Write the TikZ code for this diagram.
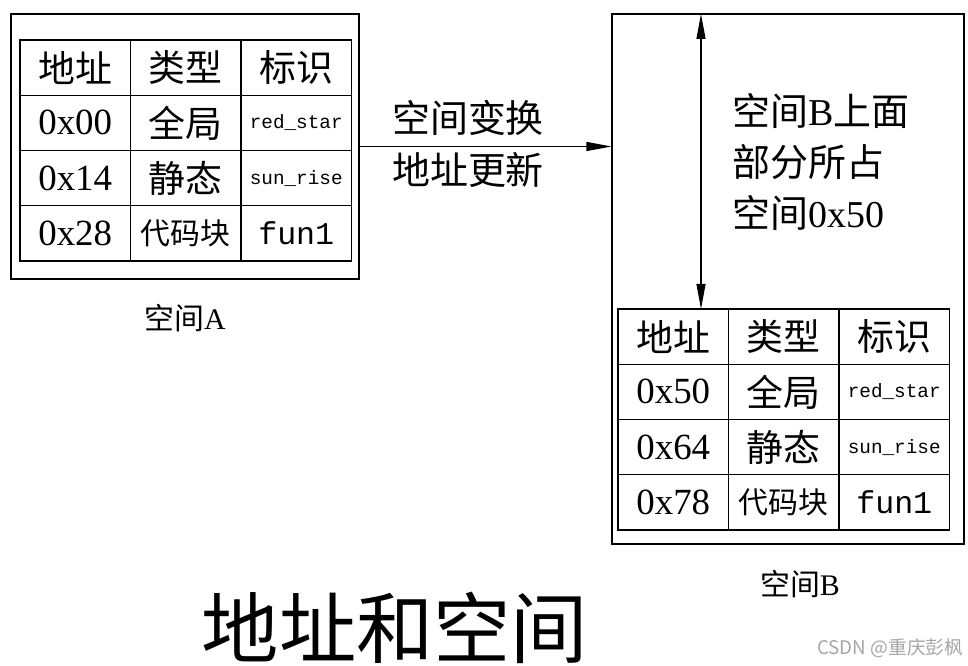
\documentclass[tikz,border=0pt]{standalone}
\usepackage{fontspec}
\usetikzlibrary{positioning,arrows.meta,calc}
\setmainfont{Liberation Serif}
\setmonofont{Liberation Mono}
\newfontfamily\zhfont{Noto Sans CJK SC}
\newcommand{\zh}[1]{{\zhfont #1}}

\begin{document}
\begin{tikzpicture}[
    >={Triangle[length=0.5cm,width=0.18cm]},
    line width=0.6pt,
    box/.style={
        rectangle,
        draw,
        inner sep=0pt,
    },
    cell/.style={
        rectangle,
        draw,
        line width=0.7pt,
        minimum width=2.21cm,
        minimum height=1.105cm,
        inner sep=0pt,
        outer sep=0pt,
        anchor=north west,
        font=\fontsize{21}{21}\selectfont,
    },
    cell_small/.style={cell, font=\fontsize{17}{17}\selectfont},
    cell_id/.style={cell, font=\ttfamily\fontsize{11}{11}\selectfont},
    cell_fun/.style={cell, font=\ttfamily\fontsize{18}{18}\selectfont},
    label/.style={font=\fontsize{17}{17}\selectfont, inner sep=0pt},
    note/.style={font=\fontsize{21.6}{29}\selectfont, inner sep=0pt, align=left},
]
    \useasboundingbox (0,0) rectangle (19.36,-13.32);

    % Outer boxes
    \node[box, minimum width=6.96cm, minimum height=5.3cm] (boxA) at (3.70,-2.93) {};
    \node[box, minimum width=7.04cm, minimum height=10.6cm] (boxB) at (15.76,-5.58) {};

    % Address tables
    \foreach \t/\x/\y/\p/\q/\r in {a/0.40/-0.80/0x00/0x14/0x28, b/12.36/-6.18/0x50/0x64/0x78} {
        \node[cell] (\t-00) at (\x,\y) {\zh{地址}};
        \node[cell, right=0pt of \t-00] (\t-01) {\zh{类型}};
        \node[cell, right=0pt of \t-01] (\t-02) {\zh{标识}};
        \node[cell, below=0pt of \t-00] (\t-10) {\p};
        \node[cell, right=0pt of \t-10] (\t-11) {\zh{全局}};
        \node[cell_id, right=0pt of \t-11] (\t-12) {red\_star};
        \node[cell, below=0pt of \t-10] (\t-20) {\q};
        \node[cell, right=0pt of \t-20] (\t-21) {\zh{静态}};
        \node[cell_id, right=0pt of \t-21] (\t-22) {sun\_rise};
        \node[cell, below=0pt of \t-20] (\t-30) {\r};
        \node[cell_small, right=0pt of \t-30] (\t-31) {\zh{代码块}};
        \node[cell_fun, right=0pt of \t-31] (\t-32) {fun1};
    }

    % Box labels
    \node[label, below=0.48cm of boxA] (lblA) {\zh{空间}A};
    \node[label, below=0.5cm of boxB, xshift=0.24cm] (lblB) {\zh{空间}B};

    % Transform arrow A -> B
    \draw[->] (boxA.east) -- (boxA.east -| boxB.west);
    \node[note] (xf1) at (9.36,-2.36) {\zh{空间变换}};
    \node[note] (xf2) at (9.36,-3.40) {\zh{地址更新}};

    % Space taken in B
    \coordinate (vtop) at (14.02,-0.28);
    \coordinate (vbot) at (b-00.north -| vtop);
    \draw[<->] (vtop) -- (vbot);
    \node[note, anchor=west] (used) at (14.64,-3.24)
        {\zh{空间}B\zh{上面}\\\zh{部分所占}\\\zh{空间}0x50};

    % Title
    \node[font=\fontsize{44}{44}\selectfont, inner sep=0pt] (title) at (7.90,-12.56) {\zh{地址和空间}};
    \node[font=\zhfont\fontsize{10.7}{10.7}\selectfont, text=black!35, anchor=east, inner sep=0pt] (mark) at (19.28,-12.96) {CSDN @重庆彭枫};

\end{tikzpicture}
\end{document}
